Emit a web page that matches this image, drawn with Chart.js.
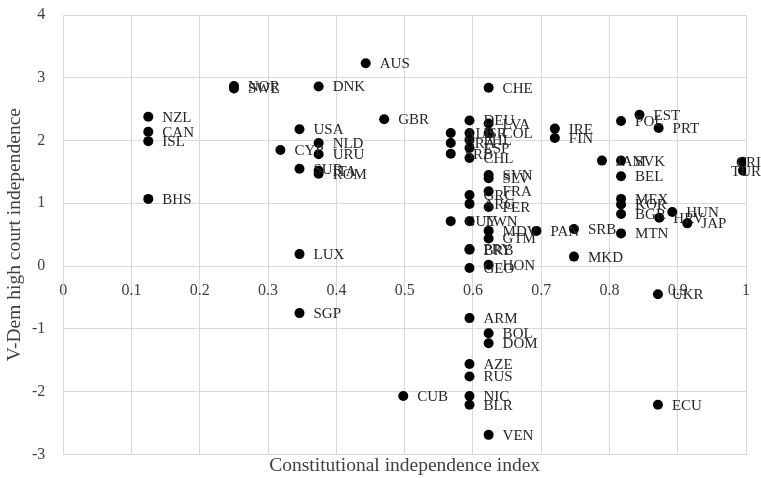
<!DOCTYPE html>
<html>
<head>
<meta charset="utf-8">
<script src="https://cdn.jsdelivr.net/npm/chart.js@4"></script>
<style>
  html, body { margin: 0; padding: 0; background: #ffffff; }
  #wrap { width: 761px; height: 478px; }
</style>
</head>
<body>
<div id="wrap"><canvas id="c" width="761" height="478"></canvas></div>
<script>
const countries = [
  "NZL","CAN","ISL","BHS","NOR","SWE","USA","CYP","SUR","LUX","SGP",
  "DNK","NLD","URU","ITA","ROM","AUS","GBR","CUB",
  "ALB","BRA","SRB","GUY",
  "DEU","ISR","PHL","ESP","CHL","GRC","ARG","TWN","PRY","BRB","GEO","ARM","AZE","RUS","NIC","BLR",
  "CHE","LVA","COL","SVN","SLV","FRA","PER","MDV","GTM","HON","BOL","DOM","VEN",
  "PAN","IRE","FIN","SRB","MKD","JAM",
  "POL","SVK","BEL","MEX","KOR","BGR","MTN","EST","PRT","HRV","UKR","ECU","HUN","JAP","CRI","TUR"
];
const constitutionalIndex = [
  0.1245,0.1245,0.1245,0.1245,0.25,0.25,0.346,0.318,0.346,0.346,0.346,
  0.374,0.374,0.374,0.374,0.374,0.443,0.47,0.498,
  0.5675,0.5675,0.5675,0.5675,
  0.595,0.595,0.595,0.595,0.595,0.595,0.595,0.595,0.595,0.595,0.595,0.595,0.595,0.595,0.595,0.595,
  0.623,0.623,0.623,0.623,0.623,0.623,0.623,0.623,0.623,0.623,0.623,0.623,0.623,
  0.693,0.72,0.72,0.748,0.748,0.789,
  0.817,0.817,0.817,0.817,0.817,0.817,0.817,0.844,0.872,0.873,0.871,0.871,0.892,0.914,0.9956,0.9956
];
const courtIndependence = [
  2.38,2.14,1.99,1.07,2.87,2.83,2.18,1.85,1.55,0.19,-0.75,
  2.86,1.96,1.78,1.52,1.47,3.23,2.34,-2.07,
  2.12,1.96,1.79,0.715,
  2.32,2.12,2.01,1.88,1.72,1.13,0.99,0.715,0.27,0.26,-0.03,-0.83,-1.56,-1.76,-2.07,-2.21,
  2.84,2.27,2.12,1.45,1.40,1.19,0.94,0.56,0.44,0.02,-1.07,-1.23,-2.69,
  0.56,2.19,2.04,0.59,0.15,1.68,
  2.31,1.68,1.43,1.07,0.98,0.83,0.52,2.41,2.20,0.77,-0.45,-2.21,0.86,0.68,1.66,1.52
];
const xTitle = "Constitutional independence index";
const yTitle = "V-Dem high court independence";

const points = constitutionalIndex.map((x, i) => ({ x: x, y: courtIndependence[i] }));

const FONT = '"Liberation Serif", "DejaVu Serif", serif';
const GRID = '#d9d9d9';
const TEXT = '#404040';
const CLEAR = 'rgba(0,0,0,0)';

const labelPlugin = {
  id: 'pointLabels',
  afterDatasetsDraw(chart) {
    const ctx = chart.ctx;
    const meta = chart.getDatasetMeta(0);
    ctx.save();
    ctx.font = '15px ' + FONT;
    ctx.fillStyle = '#262626';
    ctx.textBaseline = 'middle';
    ctx.textAlign = 'left';
    meta.data.forEach((pt, i) => {
      const txt = countries[i];
      const w = ctx.measureText(txt).width;
      let lx = pt.x + 14;
      if (lx + w > chart.width) lx = chart.width - w;
      ctx.fillText(txt, lx, pt.y + 1);
    });
    ctx.restore();
  }
};

new Chart(document.getElementById('c'), {
  type: 'scatter',
  data: {
    datasets: [{
      data: points,
      backgroundColor: '#000000',
      borderColor: '#000000',
      borderWidth: 0,
      pointRadius: 5,
      pointHoverRadius: 5
    }]
  },
  options: {
    responsive: false,
    animation: false,
    devicePixelRatio: 1,
    layout: { padding: { left: 0, right: 15, top: 15, bottom: 0 } },
    plugins: { legend: { display: false }, tooltip: { enabled: false } },
    scales: {
      x: {
        type: 'linear',
        position: 'bottom',
        min: 0, max: 1,
        ticks: { display: false, stepSize: 0.1, padding: 0 },
        grid: { color: GRID, lineWidth: 1, drawTicks: false },
        border: { color: GRID },
        title: {
          display: true, text: xTitle, color: TEXT,
          font: { family: FONT, size: 19.5, lineHeight: 1.2 },
          padding: { top: 0, bottom: 0 }
        },
        afterFit(scale) { scale.height = 23.7; }
      },
      x2: {
        type: 'linear',
        axis: 'x',
        position: { y: 0 },
        min: 0, max: 1,
        grid: { display: false, drawTicks: true, tickLength: 15, tickColor: CLEAR },
        border: { display: false },
        ticks: {
          stepSize: 0.1, color: TEXT, font: { family: FONT, size: 16 }, padding: 0,
          callback: (v) => String(Math.round(v * 10) / 10)
        }
      },
      y: {
        type: 'linear',
        position: 'left',
        min: -3, max: 4,
        ticks: { stepSize: 1, color: TEXT, font: { family: FONT, size: 16 }, padding: 0 },
        grid: { color: GRID, lineWidth: 1, drawTicks: true, tickLength: 18, tickColor: CLEAR },
        border: { color: GRID },
        title: {
          display: true, text: yTitle, color: TEXT,
          font: { family: FONT, size: 19.5, lineHeight: 1.2 },
          padding: { top: 3, bottom: 0 }
        },
        afterFit(scale) { scale.width = 63.3; }
      }
    }
  },
  plugins: [labelPlugin]
});
</script>
</body>
</html>
